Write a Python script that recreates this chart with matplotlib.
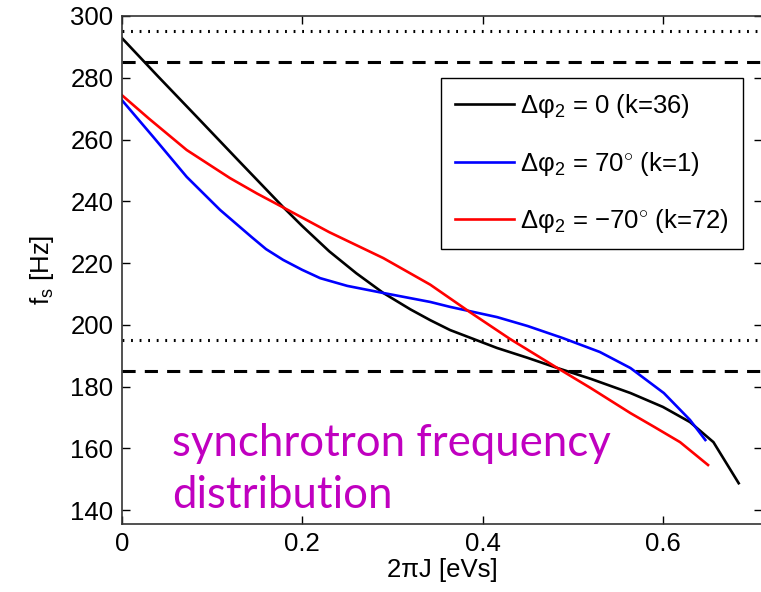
import numpy as np
import matplotlib
matplotlib.use("Agg")
import matplotlib.pyplot as plt

plt.rcParams['font.family'] = ['Liberation Sans', 'DejaVu Sans']
plt.rcParams['mathtext.fontset'] = 'custom'
plt.rcParams['mathtext.rm'] = 'Liberation Sans'
plt.rcParams['mathtext.it'] = 'Liberation Sans:italic'
plt.rcParams['mathtext.sf'] = 'Liberation Sans'

# dphi2 = 0 (k=36)
J_k36 = [0, 0.04, 0.083, 0.13, 0.179, 0.2, 0.23, 0.26, 0.29, 0.32, 0.342, 0.364,
         0.416, 0.45, 0.483, 0.52, 0.564, 0.6, 0.63, 0.656, 0.684]
fs_k36 = [292.9, 280.5, 267.4, 253.0, 238.1, 232.0, 223.8, 216.7, 210.3, 205.0, 201.5, 198.3,
          192.5, 189.3, 186.0, 182.5, 177.9, 173.4, 168.5, 162.0, 148.7]

# dphi2 = 70 deg (k=1)
J_k1 = [0, 0.035, 0.072, 0.109, 0.144, 0.16, 0.179, 0.2, 0.22, 0.25, 0.29, 0.342, 0.364,
        0.416, 0.45, 0.489, 0.53, 0.564, 0.601, 0.63, 0.647]
fs_k1 = [272.8, 260.8, 247.9, 237.2, 228.4, 224.5, 221.0, 217.8, 215.1, 212.6, 210.3, 207.4, 205.8,
         202.5, 199.6, 195.7, 191.2, 186.0, 177.9, 169.2, 162.7]

# dphi2 = -70 deg (k=72)
J_k72 = [0, 0.03, 0.072, 0.12, 0.15, 0.179, 0.23, 0.29, 0.342, 0.386, 0.43, 0.483,
         0.52, 0.564, 0.59, 0.619, 0.650]
fs_k72 = [274.4, 266.8, 256.6, 247.5, 242.5, 238.0, 230.0, 221.6, 213.0, 204.1, 195.5, 186.0,
          179.5, 171.4, 167.0, 162.0, 154.6]

dotted_levels = [295, 195]
dashed_levels = [285, 185]

labels = ['\u0394\u03c6$_2$ = 0 (k=36)',
          '\u0394\u03c6$_2$ = 70$^{\\circ}$ (k=1)',
          '\u0394\u03c6$_2$ = \u221270$^{\\circ}$ (k=72)']

fig = plt.figure(figsize=(7.61, 5.92), dpi=100)
ax = fig.add_axes([0.16, 0.1149, 0.8415, 0.8581])

for lev in dotted_levels:
    ax.axhline(lev, color='k', lw=2.2, linestyle=(0, (0.6, 2.2)))
for lev in dashed_levels:
    ax.axhline(lev, color='k', lw=2.2, linestyle=(0, (4.3, 3)))

l1, = ax.plot(J_k36, fs_k36, color='k', lw=1.9)
l2, = ax.plot(J_k1, fs_k1, color='b', lw=1.9)
l3, = ax.plot(J_k72, fs_k72, color='r', lw=1.9)

ax.set_xlim(0, 0.71)
ax.set_ylim(135.5, 300)
ax.set_xticks([0, 0.2, 0.4, 0.6])
ax.set_xticklabels(['0', '0.2', '0.4', '0.6'])
ax.set_yticks(np.arange(140, 301, 20))
ax.tick_params(direction='in', length=6, width=1, labelsize=18.5, top=True, right=True, pad=6)
for s in ax.spines.values():
    s.set_linewidth(1.2)
    s.set_color('#333333')

ax.set_xlabel('2\u03c0J [eVs]', fontsize=18.5, labelpad=1)
ax.set_ylabel(r'f$_\mathregular{s}$ [Hz]', fontsize=18.5, labelpad=10)

leg = ax.legend([l1, l2, l3], labels, loc='upper right', bbox_to_anchor=(0.970, 0.878),
                borderaxespad=0, fontsize=18.5, fancybox=False, edgecolor='k',
                handlelength=2.3, handletextpad=0.25, labelspacing=1.15, framealpha=1,
                borderpad=0.55)
leg.get_frame().set_linewidth(1.0)

ax.text(0.0785, 0.031, 'synchrotron frequency\ndistribution', transform=ax.transAxes,
        fontsize=31.5, color='#c000c0', family='Lato', linespacing=1.35, va='baseline')

fig.savefig('out.png', dpi=100)
